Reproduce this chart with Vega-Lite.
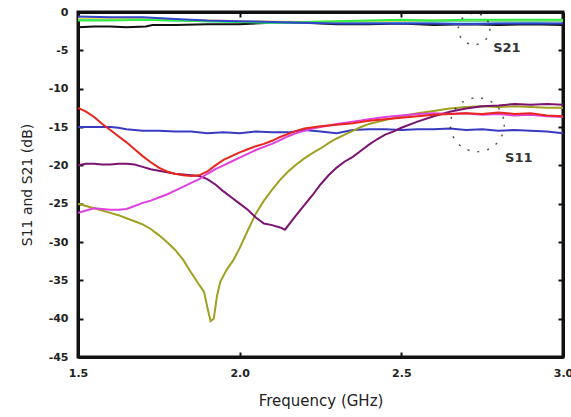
{
  "$schema": "https://vega.github.io/schema/vega-lite/v6.json",
  "width": 485,
  "height": 345,
  "autosize": "none",
  "padding": {"left": 78, "top": 12, "right": 8, "bottom": 60},
  "background": "#ffffff",
  "config": {
    "view": {"stroke": "#111111", "strokeWidth": 3},
    "axis": {
      "grid": false,
      "domain": true,
      "domainColor": "#111111",
      "domainWidth": 3,
      "ticks": true,
      "tickColor": "#111111",
      "tickWidth": 2,
      "zindex": 2,
      "labelFont": "DejaVu Sans",
      "labelFontWeight": "bold",
      "labelFontSize": 11,
      "labelColor": "#222222",
      "titleFont": "DejaVu Sans",
      "titleFontWeight": "normal",
      "titleColor": "#222222"
    }
  },
  "datasets": {
    "curves": [
      {"s":"k21","f":1.50,"d":-2.0},{"s":"k21","f":1.55,"d":-1.9},{"s":"k21","f":1.60,"d":-1.9},{"s":"k21","f":1.65,"d":-2.0},{"s":"k21","f":1.71,"d":-1.9},{"s":"k21","f":1.73,"d":-1.7},{"s":"k21","f":1.80,"d":-1.7},{"s":"k21","f":1.90,"d":-1.6},{"s":"k21","f":2.00,"d":-1.6},{"s":"k21","f":2.10,"d":-1.4},{"s":"k21","f":2.20,"d":-1.4},{"s":"k21","f":2.30,"d":-1.6},{"s":"k21","f":2.40,"d":-1.6},{"s":"k21","f":2.50,"d":-1.5},{"s":"k21","f":2.60,"d":-1.7},{"s":"k21","f":2.70,"d":-1.6},{"s":"k21","f":2.80,"d":-1.7},{"s":"k21","f":2.90,"d":-1.6},{"s":"k21","f":3.00,"d":-1.7},
      {"s":"c21","f":1.50,"d":-0.9},{"s":"c21","f":1.70,"d":-1.0},{"s":"c21","f":1.90,"d":-1.2},{"s":"c21","f":2.00,"d":-1.3},{"s":"c21","f":2.10,"d":-1.4},{"s":"c21","f":2.30,"d":-1.3},{"s":"c21","f":2.50,"d":-1.3},{"s":"c21","f":2.70,"d":-1.2},{"s":"c21","f":2.90,"d":-1.3},{"s":"c21","f":3.00,"d":-1.2},
      {"s":"y21","f":1.50,"d":-0.8},{"s":"y21","f":1.80,"d":-1.0},{"s":"y21","f":2.00,"d":-1.2},{"s":"y21","f":2.20,"d":-1.3},{"s":"y21","f":2.40,"d":-1.2},{"s":"y21","f":2.60,"d":-1.1},{"s":"y21","f":2.80,"d":-1.1},{"s":"y21","f":3.00,"d":-1.1},
      {"s":"g21","f":1.50,"d":-1.1},{"s":"g21","f":1.60,"d":-1.1},{"s":"g21","f":1.70,"d":-1.0},{"s":"g21","f":1.80,"d":-1.1},{"s":"g21","f":1.90,"d":-1.2},{"s":"g21","f":2.00,"d":-1.3},{"s":"g21","f":2.10,"d":-1.4},{"s":"g21","f":2.20,"d":-1.3},{"s":"g21","f":2.30,"d":-1.2},{"s":"g21","f":2.40,"d":-1.1},{"s":"g21","f":2.50,"d":-1.0},{"s":"g21","f":2.60,"d":-1.1},{"s":"g21","f":2.70,"d":-1.0},{"s":"g21","f":2.80,"d":-1.0},{"s":"g21","f":2.90,"d":-1.0},{"s":"g21","f":3.00,"d":-1.0},
      {"s":"b21","f":1.50,"d":-0.6},{"s":"b21","f":1.60,"d":-0.7},{"s":"b21","f":1.70,"d":-0.7},{"s":"b21","f":1.80,"d":-0.9},{"s":"b21","f":1.90,"d":-1.1},{"s":"b21","f":2.00,"d":-1.2},{"s":"b21","f":2.10,"d":-1.3},{"s":"b21","f":2.20,"d":-1.4},{"s":"b21","f":2.30,"d":-1.5},{"s":"b21","f":2.40,"d":-1.5},{"s":"b21","f":2.50,"d":-1.5},{"s":"b21","f":2.60,"d":-1.5},{"s":"b21","f":2.70,"d":-1.6},{"s":"b21","f":2.80,"d":-1.5},{"s":"b21","f":2.90,"d":-1.5},{"s":"b21","f":3.00,"d":-1.5},
      {"s":"bl","f":1.500,"d":-15.0},{"s":"bl","f":1.550,"d":-15.0},{"s":"bl","f":1.600,"d":-15.0},{"s":"bl","f":1.625,"d":-15.1},{"s":"bl","f":1.650,"d":-15.3},{"s":"bl","f":1.700,"d":-15.5},{"s":"bl","f":1.750,"d":-15.5},{"s":"bl","f":1.800,"d":-15.6},{"s":"bl","f":1.850,"d":-15.6},{"s":"bl","f":1.900,"d":-15.8},{"s":"bl","f":1.950,"d":-15.7},{"s":"bl","f":2.000,"d":-15.8},{"s":"bl","f":2.050,"d":-15.6},{"s":"bl","f":2.100,"d":-15.7},{"s":"bl","f":2.150,"d":-15.7},{"s":"bl","f":2.200,"d":-15.4},{"s":"bl","f":2.250,"d":-15.6},{"s":"bl","f":2.300,"d":-15.8},{"s":"bl","f":2.350,"d":-15.4},{"s":"bl","f":2.400,"d":-15.3},{"s":"bl","f":2.450,"d":-15.3},{"s":"bl","f":2.500,"d":-15.4},{"s":"bl","f":2.550,"d":-15.3},{"s":"bl","f":2.600,"d":-15.3},{"s":"bl","f":2.650,"d":-15.2},{"s":"bl","f":2.700,"d":-15.4},{"s":"bl","f":2.750,"d":-15.3},{"s":"bl","f":2.800,"d":-15.5},{"s":"bl","f":2.850,"d":-15.4},{"s":"bl","f":2.900,"d":-15.5},{"s":"bl","f":2.950,"d":-15.6},{"s":"bl","f":3.000,"d":-15.8},
      {"s":"ol","f":1.500,"d":-25.0},{"s":"ol","f":1.525,"d":-25.3},{"s":"ol","f":1.550,"d":-25.6},{"s":"ol","f":1.575,"d":-25.9},{"s":"ol","f":1.600,"d":-26.2},{"s":"ol","f":1.625,"d":-26.5},{"s":"ol","f":1.650,"d":-26.9},{"s":"ol","f":1.675,"d":-27.3},{"s":"ol","f":1.700,"d":-27.7},{"s":"ol","f":1.725,"d":-28.3},{"s":"ol","f":1.750,"d":-29.1},{"s":"ol","f":1.775,"d":-30.0},{"s":"ol","f":1.800,"d":-31.0},{"s":"ol","f":1.825,"d":-32.3},{"s":"ol","f":1.850,"d":-34.0},{"s":"ol","f":1.875,"d":-35.6},{"s":"ol","f":1.890,"d":-36.5},{"s":"ol","f":1.900,"d":-38.5},{"s":"ol","f":1.910,"d":-40.3},{"s":"ol","f":1.920,"d":-40.0},{"s":"ol","f":1.930,"d":-37.0},{"s":"ol","f":1.940,"d":-35.2},{"s":"ol","f":1.960,"d":-33.6},{"s":"ol","f":1.980,"d":-32.4},{"s":"ol","f":2.000,"d":-30.8},{"s":"ol","f":2.025,"d":-28.5},{"s":"ol","f":2.050,"d":-26.3},{"s":"ol","f":2.075,"d":-24.6},{"s":"ol","f":2.100,"d":-23.2},{"s":"ol","f":2.125,"d":-21.9},{"s":"ol","f":2.150,"d":-20.8},{"s":"ol","f":2.175,"d":-19.9},{"s":"ol","f":2.200,"d":-19.1},{"s":"ol","f":2.225,"d":-18.4},{"s":"ol","f":2.250,"d":-17.8},{"s":"ol","f":2.275,"d":-17.1},{"s":"ol","f":2.300,"d":-16.5},{"s":"ol","f":2.325,"d":-16.0},{"s":"ol","f":2.350,"d":-15.5},{"s":"ol","f":2.375,"d":-15.0},{"s":"ol","f":2.400,"d":-14.6},{"s":"ol","f":2.450,"d":-14.1},{"s":"ol","f":2.500,"d":-13.6},{"s":"ol","f":2.550,"d":-13.2},{"s":"ol","f":2.600,"d":-12.9},{"s":"ol","f":2.650,"d":-12.6},{"s":"ol","f":2.700,"d":-12.4},{"s":"ol","f":2.750,"d":-12.3},{"s":"ol","f":2.800,"d":-12.4},{"s":"ol","f":2.850,"d":-12.3},{"s":"ol","f":2.900,"d":-12.4},{"s":"ol","f":2.950,"d":-12.5},{"s":"ol","f":3.000,"d":-12.5},
      {"s":"pu","f":1.500,"d":-20.0},{"s":"pu","f":1.525,"d":-19.8},{"s":"pu","f":1.550,"d":-19.8},{"s":"pu","f":1.575,"d":-19.9},{"s":"pu","f":1.600,"d":-19.9},{"s":"pu","f":1.625,"d":-19.8},{"s":"pu","f":1.650,"d":-19.8},{"s":"pu","f":1.675,"d":-19.9},{"s":"pu","f":1.700,"d":-20.2},{"s":"pu","f":1.725,"d":-20.5},{"s":"pu","f":1.750,"d":-20.7},{"s":"pu","f":1.775,"d":-20.9},{"s":"pu","f":1.800,"d":-21.1},{"s":"pu","f":1.825,"d":-21.2},{"s":"pu","f":1.850,"d":-21.3},{"s":"pu","f":1.875,"d":-21.4},{"s":"pu","f":1.900,"d":-21.8},{"s":"pu","f":1.925,"d":-22.5},{"s":"pu","f":1.950,"d":-23.4},{"s":"pu","f":1.975,"d":-24.2},{"s":"pu","f":2.000,"d":-25.0},{"s":"pu","f":2.025,"d":-25.8},{"s":"pu","f":2.050,"d":-26.8},{"s":"pu","f":2.075,"d":-27.6},{"s":"pu","f":2.100,"d":-27.8},{"s":"pu","f":2.125,"d":-28.1},{"s":"pu","f":2.140,"d":-28.4},{"s":"pu","f":2.160,"d":-27.3},{"s":"pu","f":2.175,"d":-26.5},{"s":"pu","f":2.200,"d":-25.2},{"s":"pu","f":2.225,"d":-23.9},{"s":"pu","f":2.250,"d":-22.5},{"s":"pu","f":2.275,"d":-21.3},{"s":"pu","f":2.300,"d":-20.3},{"s":"pu","f":2.325,"d":-19.5},{"s":"pu","f":2.350,"d":-18.9},{"s":"pu","f":2.375,"d":-18.1},{"s":"pu","f":2.400,"d":-17.3},{"s":"pu","f":2.425,"d":-16.6},{"s":"pu","f":2.450,"d":-16.0},{"s":"pu","f":2.475,"d":-15.6},{"s":"pu","f":2.500,"d":-15.1},{"s":"pu","f":2.550,"d":-14.3},{"s":"pu","f":2.600,"d":-13.6},{"s":"pu","f":2.650,"d":-13.0},{"s":"pu","f":2.700,"d":-12.6},{"s":"pu","f":2.750,"d":-12.3},{"s":"pu","f":2.800,"d":-12.2},{"s":"pu","f":2.850,"d":-12.0},{"s":"pu","f":2.900,"d":-12.1},{"s":"pu","f":2.950,"d":-12.0},{"s":"pu","f":3.000,"d":-12.1},
      {"s":"mg","f":1.500,"d":-26.2},{"s":"mg","f":1.525,"d":-25.9},{"s":"mg","f":1.550,"d":-25.6},{"s":"mg","f":1.575,"d":-25.7},{"s":"mg","f":1.600,"d":-25.8},{"s":"mg","f":1.625,"d":-25.8},{"s":"mg","f":1.650,"d":-25.7},{"s":"mg","f":1.675,"d":-25.3},{"s":"mg","f":1.700,"d":-24.9},{"s":"mg","f":1.725,"d":-24.6},{"s":"mg","f":1.750,"d":-24.2},{"s":"mg","f":1.775,"d":-23.8},{"s":"mg","f":1.800,"d":-23.3},{"s":"mg","f":1.825,"d":-22.8},{"s":"mg","f":1.850,"d":-22.3},{"s":"mg","f":1.875,"d":-21.8},{"s":"mg","f":1.900,"d":-21.1},{"s":"mg","f":1.925,"d":-20.5},{"s":"mg","f":1.950,"d":-20.0},{"s":"mg","f":1.975,"d":-19.5},{"s":"mg","f":2.000,"d":-19.0},{"s":"mg","f":2.025,"d":-18.5},{"s":"mg","f":2.050,"d":-18.0},{"s":"mg","f":2.075,"d":-17.6},{"s":"mg","f":2.100,"d":-17.2},{"s":"mg","f":2.125,"d":-16.7},{"s":"mg","f":2.150,"d":-16.2},{"s":"mg","f":2.175,"d":-15.8},{"s":"mg","f":2.200,"d":-15.5},{"s":"mg","f":2.225,"d":-15.2},{"s":"mg","f":2.250,"d":-15.0},{"s":"mg","f":2.300,"d":-14.6},{"s":"mg","f":2.350,"d":-14.3},{"s":"mg","f":2.400,"d":-14.0},{"s":"mg","f":2.450,"d":-13.7},{"s":"mg","f":2.500,"d":-13.5},{"s":"mg","f":2.550,"d":-13.3},{"s":"mg","f":2.600,"d":-13.2},{"s":"mg","f":2.650,"d":-13.3},{"s":"mg","f":2.700,"d":-13.2},{"s":"mg","f":2.750,"d":-13.4},{"s":"mg","f":2.800,"d":-13.3},{"s":"mg","f":2.850,"d":-13.5},{"s":"mg","f":2.900,"d":-13.4},{"s":"mg","f":2.950,"d":-13.6},{"s":"mg","f":3.000,"d":-13.7},
      {"s":"rd","f":1.500,"d":-12.5},{"s":"rd","f":1.525,"d":-13.0},{"s":"rd","f":1.550,"d":-13.7},{"s":"rd","f":1.575,"d":-14.6},{"s":"rd","f":1.600,"d":-15.4},{"s":"rd","f":1.625,"d":-16.2},{"s":"rd","f":1.650,"d":-17.0},{"s":"rd","f":1.675,"d":-17.9},{"s":"rd","f":1.700,"d":-18.8},{"s":"rd","f":1.725,"d":-19.6},{"s":"rd","f":1.750,"d":-20.3},{"s":"rd","f":1.775,"d":-20.8},{"s":"rd","f":1.800,"d":-21.1},{"s":"rd","f":1.825,"d":-21.3},{"s":"rd","f":1.850,"d":-21.4},{"s":"rd","f":1.875,"d":-21.3},{"s":"rd","f":1.900,"d":-20.8},{"s":"rd","f":1.925,"d":-20.0},{"s":"rd","f":1.950,"d":-19.3},{"s":"rd","f":1.975,"d":-18.8},{"s":"rd","f":2.000,"d":-18.3},{"s":"rd","f":2.025,"d":-17.9},{"s":"rd","f":2.050,"d":-17.5},{"s":"rd","f":2.075,"d":-17.2},{"s":"rd","f":2.100,"d":-16.8},{"s":"rd","f":2.125,"d":-16.3},{"s":"rd","f":2.150,"d":-15.9},{"s":"rd","f":2.175,"d":-15.5},{"s":"rd","f":2.200,"d":-15.2},{"s":"rd","f":2.250,"d":-14.9},{"s":"rd","f":2.300,"d":-14.7},{"s":"rd","f":2.350,"d":-14.5},{"s":"rd","f":2.400,"d":-14.2},{"s":"rd","f":2.450,"d":-14.0},{"s":"rd","f":2.500,"d":-13.8},{"s":"rd","f":2.550,"d":-13.6},{"s":"rd","f":2.600,"d":-13.4},{"s":"rd","f":2.650,"d":-13.3},{"s":"rd","f":2.700,"d":-13.2},{"s":"rd","f":2.750,"d":-13.3},{"s":"rd","f":2.800,"d":-13.1},{"s":"rd","f":2.850,"d":-13.3},{"s":"rd","f":2.900,"d":-13.2},{"s":"rd","f":2.950,"d":-13.5},{"s":"rd","f":3.000,"d":-13.6}
    ],
    "rings": [
      {"f": 2.725, "d": -2.2, "which": "S21"},
      {"f": 2.735, "d": -14.7, "which": "S11"}
    ],
    "labels": [
      {"f": 2.784, "d": -4.7, "t": "S21"},
      {"f": 2.821, "d": -19.0, "t": "S11"}
    ]
  },
  "layer": [
    {
      "data": {"name": "curves"},
      "mark": {"type": "line", "strokeWidth": 2, "interpolate": "linear"},
      "encoding": {
        "x": {"field": "f", "type": "quantitative", "scale": {"domain": [1.5, 3.0], "nice": false, "zero": false},
              "axis": {"orient": "bottom", "values": [1.5, 2.0, 2.5, 3.0], "labelExpr": "format(datum.value, '.1f')", "labelFlush": false, "tickSize": -5, "labelPadding": 15, "title": "Frequency (GHz)", "titleFontSize": 15, "titlePadding": 15}},
        "y": {"field": "d", "type": "quantitative", "scale": {"domain": [-45, 0], "nice": false, "zero": false},
              "axis": {"orient": "left", "values": [0, -5, -10, -15, -20, -25, -30, -35, -40, -45], "labelExpr": "'' + datum.value", "labelFlush": false, "tickSize": -5, "labelPadding": 15, "title": "S11 and S21 (dB)", "titleFontSize": 14, "titlePadding": 14}},
        "color": {"field": "s", "type": "nominal", "legend": null,
                  "scale": {"domain": ["k21", "c21", "y21", "g21", "b21", "bl", "ol", "pu", "mg", "rd"],
                            "range": ["#111111", "#38c8e8", "#d8d860", "#33ee44", "#3344cc", "#3a3ac0", "#a0a022", "#7a1470", "#e040e0", "#e8261e"]}},
        "order": {"field": "f", "type": "quantitative"}
      }
    },
    {
      "data": {"name": "rings"},
      "transform": [{"filter": "datum.which == 'S21'"}],
      "mark": {"type": "point", "shape": "circle", "size": 1000, "filled": false, "stroke": "#111111", "strokeWidth": 1.5, "strokeDash": [2, 8]},
      "encoding": {
        "x": {"field": "f", "type": "quantitative", "scale": {"domain": [1.5, 3.0], "nice": false, "zero": false},
              "axis": {"orient": "top", "values": [1.5, 2.0, 2.5, 3.0], "tickSize": -5, "labels": false, "title": null}},
        "y": {"field": "d", "type": "quantitative", "scale": {"domain": [-45, 0], "nice": false, "zero": false},
              "axis": {"orient": "right", "values": [0, -5, -10, -15, -20, -25, -30, -35, -40, -45], "tickSize": -5, "labels": false, "title": null}}
      }
    },
    {
      "data": {"name": "rings"},
      "transform": [{"filter": "datum.which == 'S11'"}],
      "mark": {"type": "point", "shape": "circle", "size": 2900, "filled": false, "stroke": "#111111", "strokeWidth": 1.5, "strokeDash": [2, 8]},
      "encoding": {
        "x": {"field": "f", "type": "quantitative", "axis": null},
        "y": {"field": "d", "type": "quantitative", "axis": null}
      }
    },
    {
      "data": {"name": "labels"},
      "mark": {"type": "text", "align": "left", "baseline": "middle", "font": "DejaVu Sans", "fontWeight": "bold", "fontSize": 13, "color": "#333333"},
      "encoding": {
        "x": {"field": "f", "type": "quantitative", "axis": null},
        "y": {"field": "d", "type": "quantitative", "axis": null},
        "text": {"field": "t"}
      }
    }
  ],
  "resolve": {"axis": {"x": "independent", "y": "independent"}}
}
